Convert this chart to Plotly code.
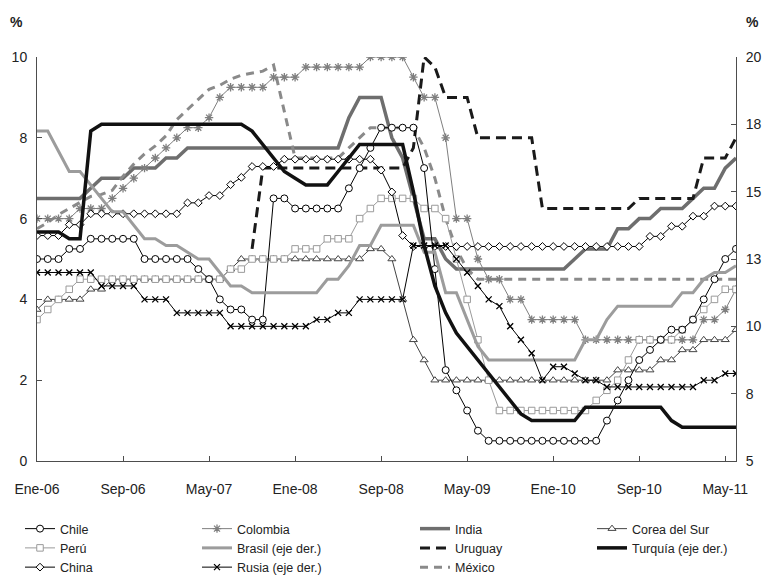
import plotly.graph_objects as go

# ---------------- categories (monthly, Jan-06 .. Jun-11) ----------------
mes = ['Ene', 'Feb', 'Mar', 'Abr', 'May', 'Jun', 'Jul', 'Ago', 'Sep', 'Oct', 'Nov', 'Dic']
years = ['06', '07', '08', '09', '10', '11']
months = [f'{m}-{y}' for y in years for m in mes][:66]

tick_labels = ['Ene-06', 'Sep-06', 'May-07', 'Ene-08', 'Sep-08', 'May-09', 'Ene-10', 'Sep-10', 'May-11']
left_ticks = [0, 2, 4, 6, 8, 10]
right_ticks = [5, 7.5, 10, 12.5, 15, 17.5, 20]
right_tick_text = ['5', '8', '10', '13', '15', '18', '20']

# ---------------- series (left axis, %) ----------------
chile = [5.0, 5.0, 5.0, 5.25, 5.25, 5.5, 5.5, 5.5, 5.5, 5.5, 5.0, 5.0,
         5.0, 5.0, 5.0, 4.75, 4.5, 4.0, 3.75, 3.75, 3.5, 3.5, 6.5, 6.5,
         6.25, 6.25, 6.25, 6.25, 6.25, 6.75, 7.25, 7.75, 8.25, 8.25, 8.25, 8.25,
         7.25, 4.75, 2.25, 1.75, 1.25, 0.75, 0.5, 0.5, 0.5, 0.5, 0.5, 0.5,
         0.5, 0.5, 0.5, 0.5, 0.5, 1.0, 1.5, 2.0, 2.5, 2.75, 3.0, 3.25,
         3.25, 3.5, 4.0, 4.5, 5.0, 5.25]
peru = [3.5, 3.75, 4.0, 4.25, 4.5, 4.5, 4.5, 4.5, 4.5, 4.5, 4.5, 4.5,
        4.5, 4.5, 4.5, 4.5, 4.5, 4.5, 4.75, 4.75, 5.0, 5.0, 5.0, 5.0,
        5.25, 5.25, 5.25, 5.5, 5.5, 5.5, 6.0, 6.25, 6.5, 6.5, 6.5, 6.5,
        6.25, 6.25, 6.0, 5.0, 4.0, 3.0, 2.0, 1.25, 1.25, 1.25, 1.25, 1.25,
        1.25, 1.25, 1.25, 1.25, 1.5, 1.75, 2.0, 2.5, 3.0, 3.0, 3.0, 3.0,
        3.25, 3.5, 3.75, 4.0, 4.25, 4.25]
china = [5.58, 5.58, 5.58, 5.85, 5.85, 6.12, 6.12, 6.12, 6.12, 6.12, 6.12, 6.12,
         6.12, 6.12, 6.39, 6.39, 6.57, 6.57, 6.84, 7.02, 7.29, 7.29, 7.29, 7.47,
         7.47, 7.47, 7.47, 7.47, 7.47, 7.47, 7.47, 7.47, 7.2, 6.66, 5.58, 5.31,
         5.31, 5.31, 5.31, 5.31, 5.31, 5.31, 5.31, 5.31, 5.31, 5.31, 5.31, 5.31,
         5.31, 5.31, 5.31, 5.31, 5.31, 5.31, 5.31, 5.31, 5.31, 5.56, 5.56, 5.81,
         5.81, 6.06, 6.06, 6.31, 6.31, 6.31]
colombia = [6.0, 6.0, 6.0, 6.0, 6.25, 6.25, 6.25, 6.5, 6.75, 7.0, 7.25, 7.5,
            7.75, 8.0, 8.25, 8.25, 8.5, 9.0, 9.25, 9.25, 9.25, 9.25, 9.5, 9.5,
            9.5, 9.75, 9.75, 9.75, 9.75, 9.75, 9.75, 10.0, 10.0, 10.0, 10.0, 9.5,
            9.0, 9.0, 8.0, 6.0, 6.0, 5.0, 4.5, 4.5, 4.0, 4.0, 3.5, 3.5,
            3.5, 3.5, 3.5, 3.0, 3.0, 3.0, 3.0, 3.0, 3.0, 3.0, 3.0, 3.0,
            3.0, 3.0, 3.5, 3.5, 3.75, 4.25]
india = [6.5, 6.5, 6.5, 6.5, 6.5, 6.75, 7.0, 7.0, 7.0, 7.25, 7.25, 7.25,
         7.5, 7.5, 7.75, 7.75, 7.75, 7.75, 7.75, 7.75, 7.75, 7.75, 7.75, 7.75,
         7.75, 7.75, 7.75, 7.75, 7.75, 8.5, 9.0, 9.0, 9.0, 8.0, 7.5, 6.5,
         5.5, 5.5, 5.0, 4.75, 4.75, 4.75, 4.75, 4.75, 4.75, 4.75, 4.75, 4.75,
         4.75, 4.75, 5.0, 5.25, 5.25, 5.25, 5.75, 5.75, 6.0, 6.0, 6.25, 6.25,
         6.25, 6.5, 6.75, 6.75, 7.25, 7.5]
uruguay = [None] * 20 + [5.25,
           7.25, 7.25, 7.25, 7.25, 7.25, 7.25, 7.25, 7.25, 7.25, 7.25, 7.25, 7.25, 7.25, 7.25,
           7.75, 10.0, 9.75, 9.0, 9.0, 9.0, 8.0, 8.0, 8.0, 8.0, 8.0, 8.0,
           6.25, 6.25, 6.25, 6.25, 6.25, 6.25, 6.25, 6.25, 6.25,
           6.5, 6.5, 6.5, 6.5, 6.5, 6.5, 7.5, 7.5, 7.5, 8.0]
mexico = [5.75, 5.9, 6.1, 6.25, 6.4, 6.55, 6.6, 6.7, 7.05, 7.35, 7.6, 7.8,
          8.05, 8.45, 8.7, 8.95, 9.2, 9.3, 9.45, 9.55, 9.6, 9.65, 9.8, 8.65,
          7.5, 7.5, 7.5, 7.5, 7.5, 7.75, 8.0, 8.25, 8.25, 8.25, 8.25, 8.25,
          7.75, 7.0, 6.0, 5.25, 4.75, 4.5, 4.5, 4.5, 4.5, 4.5, 4.5, 4.5,
          4.5, 4.5, 4.5, 4.5, 4.5, 4.5, 4.5, 4.5, 4.5, 4.5, 4.5, 4.5,
          4.5, 4.5, 4.5, 4.5, 4.5, 4.5]
corea = [3.75, 4.0, 4.0, 4.0, 4.0, 4.25, 4.25, 4.5, 4.5, 4.5, 4.5, 4.5,
         4.5, 4.5, 4.5, 4.5, 4.5, 4.5, 4.75, 5.0, 5.0, 5.0, 5.0, 5.0,
         5.0, 5.0, 5.0, 5.0, 5.0, 5.0, 5.0, 5.25, 5.25, 5.0, 4.0, 3.0,
         2.5, 2.0, 2.0, 2.0, 2.0, 2.0, 2.0, 2.0, 2.0, 2.0, 2.0, 2.0,
         2.0, 2.0, 2.0, 2.0, 2.0, 2.0, 2.25, 2.25, 2.25, 2.25, 2.5, 2.5,
         2.75, 2.75, 3.0, 3.0, 3.0, 3.25]

# ---------------- series (right axis, %) ----------------
brasil = [17.25, 17.25, 16.5, 15.75, 15.75, 15.25, 14.75, 14.25, 14.25, 13.75, 13.25, 13.25,
          13.0, 13.0, 12.75, 12.5, 12.5, 12.0, 11.5, 11.5, 11.25, 11.25, 11.25, 11.25,
          11.25, 11.25, 11.25, 11.75, 11.75, 12.25, 13.0, 13.0, 13.75, 13.75, 13.75, 13.75,
          12.75, 12.75, 11.25, 11.25, 10.25, 9.25, 8.75, 8.75, 8.75, 8.75, 8.75, 8.75,
          8.75, 8.75, 8.75, 9.5, 9.5, 10.25, 10.75, 10.75, 10.75, 10.75, 10.75, 10.75,
          11.25, 11.25, 11.75, 12.0, 12.0, 12.25]
rusia = [12.0, 12.0, 12.0, 12.0, 12.0, 12.0, 11.5, 11.5, 11.5, 11.5, 11.0, 11.0,
         11.0, 10.5, 10.5, 10.5, 10.5, 10.5, 10.0, 10.0, 10.0, 10.0, 10.0, 10.0,
         10.0, 10.0, 10.25, 10.25, 10.5, 10.5, 11.0, 11.0, 11.0, 11.0, 11.0, 13.0,
         13.0, 13.0, 13.0, 12.5, 12.0, 11.5, 11.0, 10.75, 10.0, 9.5, 9.0, 8.0,
         8.5, 8.5, 8.25, 8.0, 8.0, 7.75, 7.75, 7.75, 7.75, 7.75, 7.75, 7.75,
         7.75, 7.75, 8.0, 8.0, 8.25, 8.25]
turquia = [13.5, 13.5, 13.5, 13.25, 13.25, 17.25, 17.5, 17.5, 17.5, 17.5, 17.5, 17.5,
           17.5, 17.5, 17.5, 17.5, 17.5, 17.5, 17.5, 17.5, 17.25, 16.75, 16.25, 15.75,
           15.5, 15.25, 15.25, 15.25, 15.75, 16.25, 16.75, 16.75, 16.75, 16.75, 16.75, 15.0,
           13.0, 11.5, 10.5, 9.75, 9.25, 8.75, 8.25, 7.75, 7.25, 6.75, 6.5, 6.5,
           6.5, 6.5, 6.5, 7.0, 7.0, 7.0, 7.0, 7.0, 7.0, 7.0, 7.0, 6.5,
           6.25, 6.25, 6.25, 6.25, 6.25, 6.25]

FONT = 'Arial, Liberation Sans, sans-serif'
AX = '#4d4d4d'

fig = go.Figure()


def add_line(name, y, color, width, legend, rank, dash=None, yaxis='y'):
    fig.add_trace(go.Scatter(
        x=months, y=y, name=name, mode='lines', yaxis=yaxis,
        line=dict(color=color, width=width, dash=dash),
        legend=legend, legendrank=rank, connectgaps=False))


def add_marker(name, y, color, symbol, size, legend, rank, fill='white',
               mline=1.0, yaxis='y'):
    fig.add_trace(go.Scatter(
        x=months, y=y, name=name, mode='lines+markers', yaxis=yaxis,
        line=dict(color=color, width=1),
        marker=dict(symbol=symbol, size=size, color=fill,
                    line=dict(color=color, width=mline)),
        legend=legend, legendrank=rank))


# thick lines first (left axis)
add_line('India', india, '#6e6e6e', 3.5, 'legend3', 1)
add_line('México', mexico, '#8a8a8a', 3, 'legend3', 3, dash='8px,6px')
add_line('Uruguay', uruguay, '#1a1a1a', 3, 'legend3', 2, dash='10px,6px')
# marker lines (left axis)
add_marker('Corea del Sur', corea, '#444444', 'triangle-up', 7, 'legend4', 1)
add_marker('Colombia', colombia, '#7f7f7f', 'asterisk-open', 7, 'legend2', 1,
           fill='#7f7f7f', mline=1.3)
add_marker('Perú', peru, '#9a9a9a', 'square', 6.5, 'legend', 2)
add_marker('China', china, '#000000', 'diamond', 6, 'legend', 3)
add_marker('Chile', chile, '#000000', 'circle', 7, 'legend', 1)
# right axis series
add_line('Brasil (eje der.)', brasil, '#9c9c9c', 3, 'legend2', 2, yaxis='y2')
add_marker('Rusia (eje der.)', rusia, '#000000', 'x-thin-open', 6, 'legend2', 3,
           fill='#000000', mline=1.3, yaxis='y2')
add_line('Turquía (eje der.)', turquia, '#111111', 3.5, 'legend4', 2, yaxis='y2')

axis_common = dict(showline=True, linecolor=AX, linewidth=1, ticks='inside',
                   ticklen=5, tickcolor=AX, tickwidth=1, showgrid=False,
                   zeroline=False, tickfont=dict(family=FONT, size=14, color='#222'))

legend_common = dict(orientation='v', xref='container', yref='container',
                     yanchor='top', xanchor='left', bgcolor='rgba(0,0,0,0)',
                     font=dict(family=FONT, size=12.5, color='#222'),
                     traceorder='normal', itemwidth=30, tracegroupgap=0)

LEG_Y = 1 - 514 / 575

fig.update_layout(
    width=765, height=575,
    margin=dict(l=37, r=29, t=57, b=114, autoexpand=False),
    plot_bgcolor='white', paper_bgcolor='white',
    font=dict(family=FONT, size=14, color='#222'),
    xaxis=dict(type='category', range=[0, 65], tickmode='array',
               tickvals=[months[i] for i in (0, 8, 16, 24, 32, 40, 48, 56, 64)],
               ticktext=tick_labels, ticklabelstandoff=15, tickangle=0,
               automargin=False, **axis_common),
    yaxis=dict(range=[0, 10], tickmode='array', tickvals=left_ticks,
               ticklabelstandoff=6, automargin=False, **axis_common),
    yaxis2=dict(range=[5, 20], overlaying='y', side='right', tickmode='array',
                tickvals=right_ticks, ticktext=right_tick_text,
                ticklabelstandoff=6, automargin=False, **axis_common),
    legend=dict(x=20 / 765, y=LEG_Y, **legend_common),
    legend2=dict(x=197 / 765, y=LEG_Y, **legend_common),
    legend3=dict(x=415 / 765, y=LEG_Y, **legend_common),
    legend4=dict(x=592 / 765, y=LEG_Y, **legend_common),
    annotations=[
        dict(text='<b>%</b>', xref='paper', yref='paper', x=(16 - 37) / 699,
             y=(461 - 22) / 404, showarrow=False, xanchor='center', yanchor='middle',
             font=dict(family=FONT, size=14, color='#222')),
        dict(text='<b>%</b>', xref='paper', yref='paper', x=(752 - 37) / 699,
             y=(461 - 22) / 404, showarrow=False, xanchor='center', yanchor='middle',
             font=dict(family=FONT, size=14, color='#222')),
    ],
)

fig.write_html('out.html', config={'displayModeBar': False},
               post_script="document.body.style.margin='0px';"
                           "document.body.style.overflow='hidden';")
